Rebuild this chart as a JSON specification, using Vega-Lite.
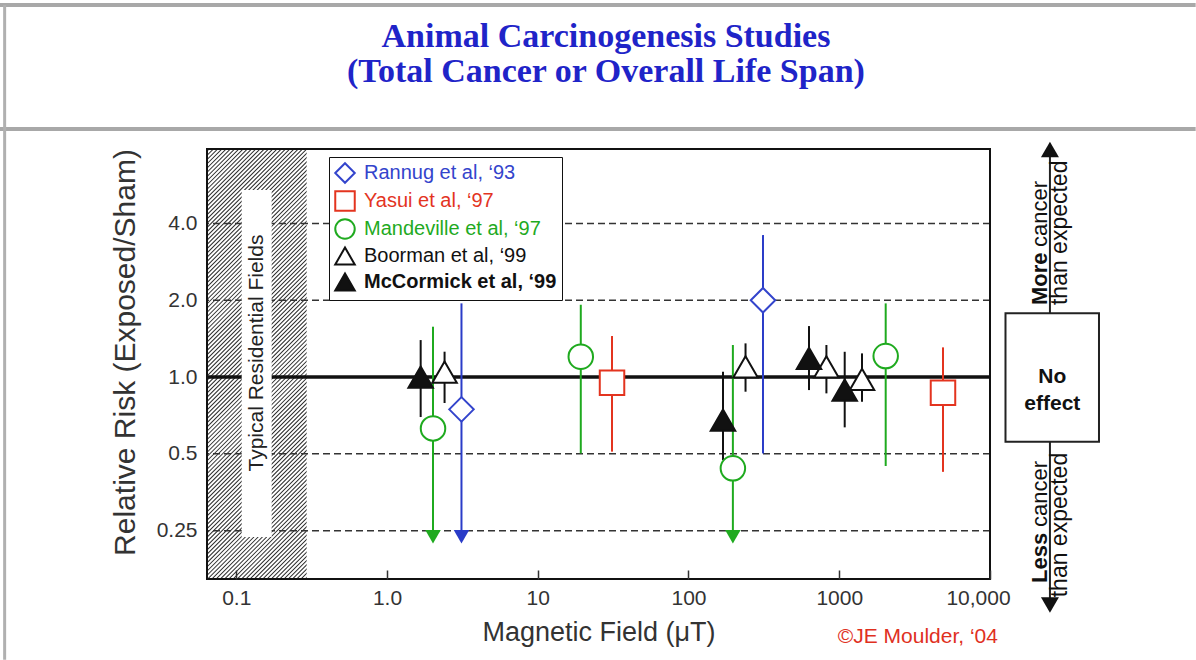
{
  "$schema": "https://vega.github.io/schema/vega-lite/v6.json",
  "width": 783,
  "height": 430,
  "autosize": {"type": "none"},
  "padding": {"left": 207, "top": 149, "right": 206, "bottom": 81},
  "background": "white",
  "config": {
    "view": {"stroke": null},
    "font": "Liberation Sans",
    "legend": {
      "orient": "none", "legendX": 122, "legendY": 8, "zindex": 2,
      "padding": 5, "strokeColor": "#111", "fillColor": "white",
      "labelFontSize": 20, "labelFont": "Liberation Sans", "labelLimit": 400,
      "labelColor": {"expr": "scale('stroke', datum.value)"},
      "labelFontWeight": {"expr": "indexof(datum.value, 'McCormick') >= 0 ? 'bold' : 'normal'"},
      "symbolSize": 380, "symbolStrokeWidth": 2, "rowPadding": 0, "labelOffset": 8
    }
  },
  "datasets": {
    "studies": [
      {"study": "Rannug et al, ‘93", "b": 3.12, "rr": 0.747, "lo": 0.2365, "hi": 1.944, "arrow": true},
      {"study": "Rannug et al, ‘93", "b": 312, "rr": 2.0, "lo": 0.502, "hi": 3.6, "arrow": false},
      {"study": "Yasui et al, ‘97", "b": 31.1, "rr": 0.95, "lo": 0.51, "hi": 1.448, "arrow": false},
      {"study": "Yasui et al, ‘97", "b": 4877, "rr": 0.868, "lo": 0.425, "hi": 1.307, "arrow": false},
      {"study": "Mandeville et al, ‘97", "b": 2.02, "rr": 0.629, "lo": 0.2365, "hi": 1.575, "arrow": true},
      {"study": "Mandeville et al, ‘97", "b": 19.3, "rr": 1.201, "lo": 0.502, "hi": 1.92, "arrow": false},
      {"study": "Mandeville et al, ‘97", "b": 197, "rr": 0.439, "lo": 0.2365, "hi": 1.335, "arrow": true},
      {"study": "Mandeville et al, ‘97", "b": 2033, "rr": 1.209, "lo": 0.448, "hi": 1.944, "arrow": false},
      {"study": "Boorman et al, ‘99", "b": 2.41, "rr": 1.046, "lo": 0.791, "hi": 1.257, "arrow": false},
      {"study": "Boorman et al, ‘99", "b": 239, "rr": 1.097, "lo": 0.876, "hi": 1.355, "arrow": false},
      {"study": "Boorman et al, ‘99", "b": 822, "rr": 1.097, "lo": 0.863, "hi": 1.335, "arrow": false},
      {"study": "Boorman et al, ‘99", "b": 1416, "rr": 0.979, "lo": 0.8, "hi": 1.238, "arrow": false},
      {"study": "McCormick et al, ‘99", "b": 1.673, "rr": 1.0, "lo": 0.697, "hi": 1.396, "arrow": false},
      {"study": "McCormick et al, ‘99", "b": 169.4, "rr": 0.678, "lo": 0.473, "hi": 1.049, "arrow": false},
      {"study": "McCormick et al, ‘99", "b": 630, "rr": 1.184, "lo": 0.889, "hi": 1.584, "arrow": false},
      {"study": "McCormick et al, ‘99", "b": 1087, "rr": 0.889, "lo": 0.635, "hi": 1.256, "arrow": false}
    ],
    "grid": [{"v": 4}, {"v": 2}, {"v": 0.5}, {"v": 0.25}]
  },
  "layer": [
    {
      "data": {"values": [{"x": 0.01661, "y": 3.907, "x2": 1.1248, "y2": 0.3236}]},
      "mark": {"type": "rule", "strokeWidth": 390, "strokeDash": [1.0, 2.0], "color": "#2b2b2b", "clip": true, "strokeCap": "butt"},
      "encoding": {
        "x": {
          "field": "x", "type": "quantitative",
          "scale": {"type": "log", "domain": [0.064, 10000], "nice": false},
          "axis": {
            "title": "Magnetic Field (μT)",
            "zindex": 1,
            "values": [0.1, 1, 10, 100, 1000, 10000],
            "labelExpr": "datum.value == 1 ? '1.0' : datum.value == 10000 ? '10,000' : datum.value < 0.5 ? '0.1' : format(datum.value, 'd')",
            "ticks": true, "tickSize": -9, "tickColor": "#333", "tickWidth": 1.5,
            "domain": false, "grid": false, "labelFlush": false,
            "labelOffset": {"condition": {"test": "datum.value >= 10000", "value": -12}, "value": 0},
            "labelFontSize": 21, "labelColor": "#333", "labelPadding": 17,
            "titleFontSize": 27, "titleFontWeight": "normal", "titleColor": "#333",
            "titleY": 53, "titleBaseline": "middle"
          }
        },
        "x2": {"field": "x2"},
        "y": {
          "field": "y", "type": "quantitative",
          "scale": {"type": "log", "domain": [0.1616, 7.83], "nice": false},
          "axis": {
            "title": "Relative Risk (Exposed/Sham)",
            "values": [0.25, 0.5, 1, 2, 4],
            "labelExpr": "datum.value == 0.25 ? '0.25' : format(datum.value, '.1f')",
            "ticks": false, "domain": false, "grid": false,
            "labelFontSize": 21, "labelColor": "#333", "labelPadding": 10,
            "titleFontSize": 30, "titleFontWeight": "normal", "titleColor": "#333",
            "titleX": -82, "titleY": 203, "titleBaseline": "middle"
          }
        },
        "y2": {"field": "y2"}
      }
    },
    {
      "data": {"values": [{"x": 0.2933, "x2": 10000, "y": 0.1616, "y2": 7.83}]},
      "mark": {"type": "rect", "fill": "white", "clip": true},
      "encoding": {
        "x": {"field": "x", "type": "quantitative"}, "x2": {"field": "x2"},
        "y": {"field": "y", "type": "quantitative"}, "y2": {"field": "y2"}
      }
    },
    {
      "data": {"name": "grid"},
      "mark": {"type": "rule", "strokeDash": [7, 4], "color": "#333", "strokeWidth": 1.5},
      "encoding": {"y": {"field": "v", "type": "quantitative"}}
    },
    {
      "data": {"values": [{"v": 1}]},
      "mark": {"type": "rule", "color": "#111", "strokeWidth": 3.5},
      "encoding": {"y": {"field": "v", "type": "quantitative"}}
    },
    {
      "data": {"values": [{"x": 0.1087, "x2": 0.1718, "y": 0.236, "y2": 5.41}]},
      "mark": {"type": "rect", "fill": "white"},
      "encoding": {
        "x": {"field": "x", "type": "quantitative"}, "x2": {"field": "x2"},
        "y": {"field": "y", "type": "quantitative"}, "y2": {"field": "y2"}
      }
    },
    {
      "data": {"values": [{"x": 0.1367, "y": 1.242, "t": "Typical Residential Fields"}]},
      "mark": {"type": "text", "angle": 270, "align": "center", "baseline": "middle", "fontSize": 21, "color": "#222"},
      "encoding": {
        "x": {"field": "x", "type": "quantitative"},
        "y": {"field": "y", "type": "quantitative"},
        "text": {"field": "t"}
      }
    },
    {
      "data": {"name": "studies"},
      "mark": {"type": "rule", "strokeWidth": 2},
      "encoding": {
        "x": {"field": "b", "type": "quantitative"},
        "y": {"field": "lo", "type": "quantitative"},
        "y2": {"field": "hi"},
        "color": {
          "field": "study", "type": "nominal", "legend": null,
          "scale": {
            "domain": ["McCormick et al, ‘99", "Boorman et al, ‘99", "Mandeville et al, ‘97", "Yasui et al, ‘97", "Rannug et al, ‘93"],
            "range": ["#111111", "#111111", "#1faa1f", "#e3341f", "#2a3cc8"]
          }
        }
      }
    },
    {
      "data": {"name": "studies"},
      "transform": [{"filter": "datum.arrow"}],
      "mark": {"type": "point", "shape": "triangle-down", "filled": true, "size": 240, "opacity": 1},
      "encoding": {
        "x": {"field": "b", "type": "quantitative"},
        "y": {"field": "lo", "type": "quantitative"},
        "color": {"field": "study", "type": "nominal", "legend": null}
      }
    },
    {
      "data": {"name": "studies"},
      "mark": {"type": "point", "filled": true, "size": 600, "strokeWidth": 2, "opacity": 1},
      "encoding": {
        "x": {"field": "b", "type": "quantitative"},
        "y": {"field": "rr", "type": "quantitative"},
        "shape": {
          "field": "study", "type": "nominal",
          "scale": {
            "domain": ["Rannug et al, ‘93", "Yasui et al, ‘97", "Mandeville et al, ‘97", "Boorman et al, ‘99", "McCormick et al, ‘99"],
            "range": ["diamond", "square", "circle", "triangle-up", "triangle-up"]
          },
          "legend": {"title": null}
        },
        "fill": {
          "field": "study", "type": "nominal",
          "scale": {
            "domain": ["Rannug et al, ‘93", "Yasui et al, ‘97", "Mandeville et al, ‘97", "Boorman et al, ‘99", "McCormick et al, ‘99"],
            "range": ["#ffffff", "#ffffff", "#ffffff", "#ffffff", "#111111"]
          },
          "legend": {"title": null}
        },
        "stroke": {
          "field": "study", "type": "nominal",
          "scale": {
            "domain": ["Rannug et al, ‘93", "Yasui et al, ‘97", "Mandeville et al, ‘97", "Boorman et al, ‘99", "McCormick et al, ‘99"],
            "range": ["#3344cc", "#e3341f", "#1faa1f", "#111111", "#111111"]
          },
          "legend": {"title": null}
        }
      }
    },
    {
      "data": {"values": [{"x": 0.064, "x2": 10000, "y": 0.1616, "y2": 7.83}]},
      "mark": {"type": "rect", "fill": "transparent", "stroke": "#111", "strokeWidth": 2},
      "encoding": {
        "x": {"field": "x", "type": "quantitative"}, "x2": {"field": "x2"},
        "y": {"field": "y", "type": "quantitative"}, "y2": {"field": "y2"}
      }
    },
    {
      "data": {"values": [{"x": 24980, "y": 1.777, "y2": 7.76}, {"x": 24980, "y": 0.558, "y2": 0.1338}]},
      "mark": {"type": "rule", "color": "#222", "strokeWidth": 2},
      "encoding": {
        "x": {"field": "x", "type": "quantitative"},
        "y": {"field": "y", "type": "quantitative"}, "y2": {"field": "y2"}
      }
    },
    {
      "data": {"values": [{"x": 24980, "y": 7.79}]},
      "mark": {"type": "point", "shape": "triangle-up", "filled": true, "size": 324, "color": "#111", "opacity": 1},
      "encoding": {
        "x": {"field": "x", "type": "quantitative"},
        "y": {"field": "y", "type": "quantitative"}
      }
    },
    {
      "data": {"values": [{"x": 24980, "y": 0.1278}]},
      "mark": {"type": "point", "shape": "triangle-down", "filled": true, "size": 324, "color": "#111", "opacity": 1},
      "encoding": {
        "x": {"field": "x", "type": "quantitative"},
        "y": {"field": "y", "type": "quantitative"}
      }
    },
    {
      "data": {"values": [{"x": 12670, "x2": 52840, "y": 0.558, "y2": 1.777}]},
      "mark": {"type": "rect", "fill": "white", "stroke": "#222", "strokeWidth": 2},
      "encoding": {
        "x": {"field": "x", "type": "quantitative"}, "x2": {"field": "x2"},
        "y": {"field": "y", "type": "quantitative"}, "y2": {"field": "y2"}
      }
    },
    {
      "data": {"values": [{"x": 25910, "y": 1.0, "t": "No\neffect"}]},
      "mark": {"type": "text", "align": "center", "baseline": "middle", "fontSize": 21, "fontWeight": "bold", "lineBreak": "\n", "lineHeight": 27, "color": "#111"},
      "encoding": {
        "x": {"field": "x", "type": "quantitative"},
        "y": {"field": "y", "type": "quantitative"},
        "text": {"field": "t"}
      }
    },
    {
      "data": {"values": [{"x": 23870, "y": 1.915, "t": "More"}, {"x": 23870, "y": 0.156, "t": "Less"}]},
      "mark": {"type": "text", "angle": 270, "align": "left", "baseline": "alphabetic", "fontSize": 22, "fontWeight": "bold", "color": "#111"},
      "encoding": {
        "x": {"field": "x", "type": "quantitative"},
        "y": {"field": "y", "type": "quantitative"},
        "text": {"field": "t"}
      }
    },
    {
      "data": {"values": [{"x": 23870, "y": 1.915, "t": "cancer"}]},
      "mark": {"type": "text", "angle": 270, "align": "left", "baseline": "alphabetic", "fontSize": 22, "color": "#111", "dx": 58},
      "encoding": {
        "x": {"field": "x", "type": "quantitative"},
        "y": {"field": "y", "type": "quantitative"},
        "text": {"field": "t"}
      }
    },
    {
      "data": {"values": [{"x": 23870, "y": 0.156, "t": "cancer"}]},
      "mark": {"type": "text", "angle": 270, "align": "left", "baseline": "alphabetic", "fontSize": 22, "color": "#111", "dx": 56},
      "encoding": {
        "x": {"field": "x", "type": "quantitative"},
        "y": {"field": "y", "type": "quantitative"},
        "text": {"field": "t"}
      }
    },
    {
      "data": {"values": [{"x": 32390, "y": 1.915, "t": "than expected"}, {"x": 32390, "y": 0.137, "t": "than expected"}]},
      "mark": {"type": "text", "angle": 270, "align": "left", "baseline": "alphabetic", "fontSize": 23, "color": "#111"},
      "encoding": {
        "x": {"field": "x", "type": "quantitative"},
        "y": {"field": "y", "type": "quantitative"},
        "text": {"field": "t"}
      }
    },
    {
      "data": {"values": [{"x": 977, "y": 0.0958, "t": "©JE Moulder, ‘04"}]},
      "mark": {"type": "text", "align": "left", "baseline": "middle", "fontSize": 21, "color": "#e0301e"},
      "encoding": {
        "x": {"field": "x", "type": "quantitative"},
        "y": {"field": "y", "type": "quantitative"},
        "text": {"field": "t"}
      }
    },
    {
      "data": {"values": [
        {"x": 28.35, "y": 21.6, "t": "Animal Carcinogenesis Studies"},
        {"x": 28.35, "y": 15.7, "t": "(Total Cancer or Overall Life Span)"}
      ]},
      "mark": {"type": "text", "align": "center", "baseline": "middle", "font": "Liberation Serif", "fontSize": 34, "fontWeight": "bold", "color": "#1f24c8"},
      "encoding": {
        "x": {"field": "x", "type": "quantitative"},
        "y": {"field": "y", "type": "quantitative"},
        "text": {"field": "t"}
      }
    },
    {
      "data": {"values": [
        {"x": 0.0027, "x2": 231300, "y": 28.7, "c": "top"},
        {"x": 0.0027, "x2": 231300, "y": 9.38, "c": "mid"}
      ]},
      "mark": {"type": "rule", "color": "#a8a8a8", "strokeWidth": 4},
      "encoding": {
        "x": {"field": "x", "type": "quantitative"}, "x2": {"field": "x2"},
        "y": {"field": "y", "type": "quantitative"}
      }
    },
    {
      "data": {"values": [{"x": 0.00291, "y": 28.7, "y2": 0.078}]},
      "mark": {"type": "rule", "color": "#b0b0b0", "strokeWidth": 3},
      "encoding": {
        "x": {"field": "x", "type": "quantitative"},
        "y": {"field": "y", "type": "quantitative"}, "y2": {"field": "y2"}
      }
    }
  ]
}
